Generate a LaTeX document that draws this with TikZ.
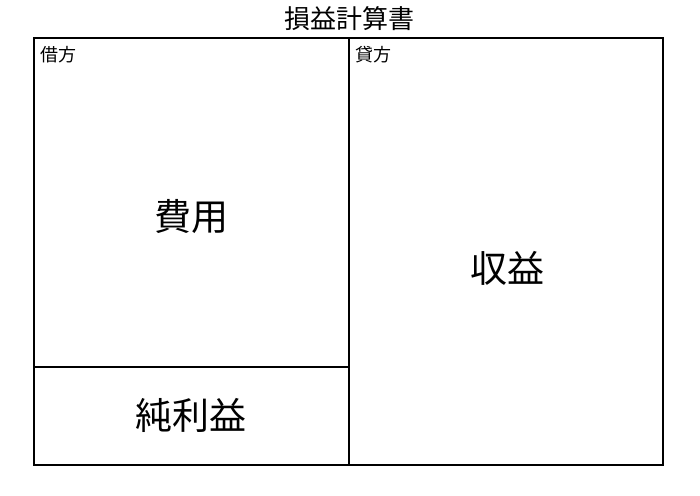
\documentclass[tikz,border=0pt]{standalone}
\usepackage{fontspec}
\newfontfamily\jp{Noto Sans CJK JP}
\tikzset{
  frame/.style={draw=black, line width=1.6bp},
  small/.style={font=\jp\fontsize{18bp}{20bp}\selectfont, inner sep=0pt, anchor=west},
  big/.style={font=\jp\fontsize{37bp}{40bp}\selectfont, inner sep=0pt},
  ttl/.style={font=\jp\fontsize{26bp}{28bp}\selectfont, inner sep=0pt}
}
\begin{document}
\begin{tikzpicture}[x=1bp,y=-1bp]
\useasboundingbox (0,0) rectangle (700,496);
\coordinate (tl) at (34,38);
\coordinate (br) at (663,465);
\coordinate (mt) at (349,38);
\coordinate (mb) at (349,465);
\coordinate (hl) at (34,367);
\coordinate (hr) at (349,367);
\draw[frame] (tl) rectangle (br);
\draw[frame] (mt) -- (mb);
\draw[frame] (hl) -- (hr);
\node[ttl] (title) at (349,19) {損益計算書};
\node[small] (debit) at (40,55) {借方};
\node[small] (credit) at (355,55) {貸方};
\node[big] (cost) at (191,217) {費用};
\node[big] (rev) at (507,268) {収益};
\node[big] (net) at (191,415) {純利益};
\end{tikzpicture}
\end{document}
